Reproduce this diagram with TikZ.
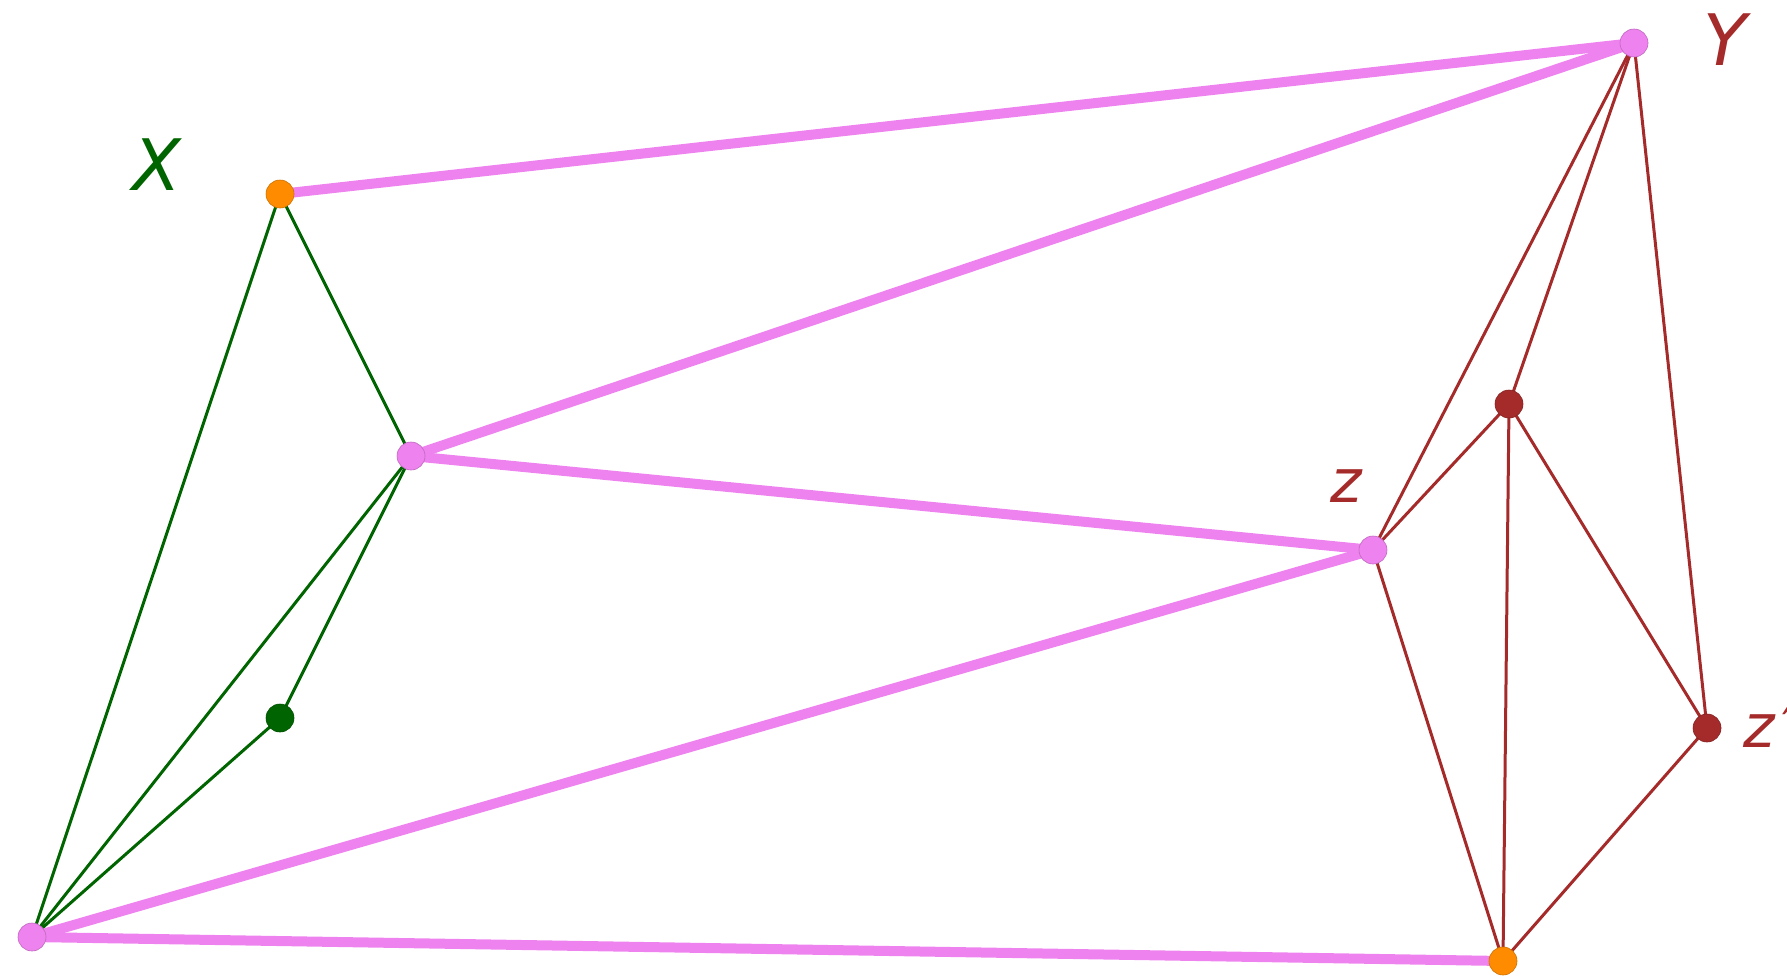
\documentclass[tikz,border=0pt]{standalone}
\usepackage{fontspec}
\setmainfont{DejaVu Sans}
\definecolor{vio}{HTML}{EE82EE}
\definecolor{dorange}{HTML}{FF8C00}
\definecolor{dgreen}{HTML}{006400}
\definecolor{brn}{HTML}{A52A2A}
\begin{document}
\begin{tikzpicture}[x=1pt,y=-1pt,
  dot/.style={circle,inner sep=0pt,minimum size=28pt,fill=#1,draw=#1!80!black,line width=0.6pt},
  thick pink/.style={vio,line width=10pt},
  thin green/.style={dgreen,line width=3pt},
  thin brown/.style={brn,line width=3pt},
  lab/.style={font=\itshape\fontsize{#1}{#1}\selectfont,inner sep=0pt}]
\useasboundingbox (0,0) rectangle (1787,977);
% node positions
\coordinate (X) at (280,194);
\coordinate (Y) at (1634,43);
\coordinate (A) at (411,456);
\coordinate (Z) at (1373,550);
\coordinate (BL) at (32,937);
\coordinate (BR) at (1503,961);
\coordinate (G) at (280,718);
\coordinate (M) at (1509,404);
\coordinate (Zp) at (1707,728);
% edges
\draw[thin green] (X) -- (A);
\draw[thin green] (X) -- (BL);
\draw[thin green] (A) -- (BL);
\draw[thin green] (A) -- (G);
\draw[thin green] (G) -- (BL);
\draw[thin brown] (Y) -- (Z);
\draw[thin brown] (Y) -- (M);
\draw[thin brown] (Y) -- (Zp);
\draw[thin brown] (M) -- (Z);
\draw[thin brown] (M) -- (BR);
\draw[thin brown] (M) -- (Zp);
\draw[thin brown] (Z) -- (BR);
\draw[thin brown] (Zp) -- (BR);
\draw[thick pink] (X) -- (Y);
\draw[thick pink] (A) -- (Y);
\draw[thick pink] (A) -- (Z);
\draw[thick pink] (Z) -- (BL);
\draw[thick pink] (BL) -- (BR);
% nodes
\node[dot=dorange] (nX) at (X) {};
\node[dot=vio] (nY) at (Y) {};
\node[dot=vio] (nA) at (A) {};
\node[dot=vio] (nZ) at (Z) {};
\node[dot=vio] (nBL) at (BL) {};
\node[dot=dorange] (nBR) at (BR) {};
\node[dot=dgreen] (nG) at (G) {};
\node[dot=brn] (nM) at (M) {};
\node[dot=brn] (nZp) at (Zp) {};
% labels
\node[lab=71pt,text=dgreen] (lX) at (157,165) {X};
\node[lab=71pt,text=brn] (lY) at (1725,40) {Y};
\node[lab=60pt,text=brn] (lZ) at (1346,486) {z};
\node[lab=60pt,text=brn,anchor=base west] (lZp) at (1743,747) {z\kern8pt′};
\end{tikzpicture}
\end{document}
